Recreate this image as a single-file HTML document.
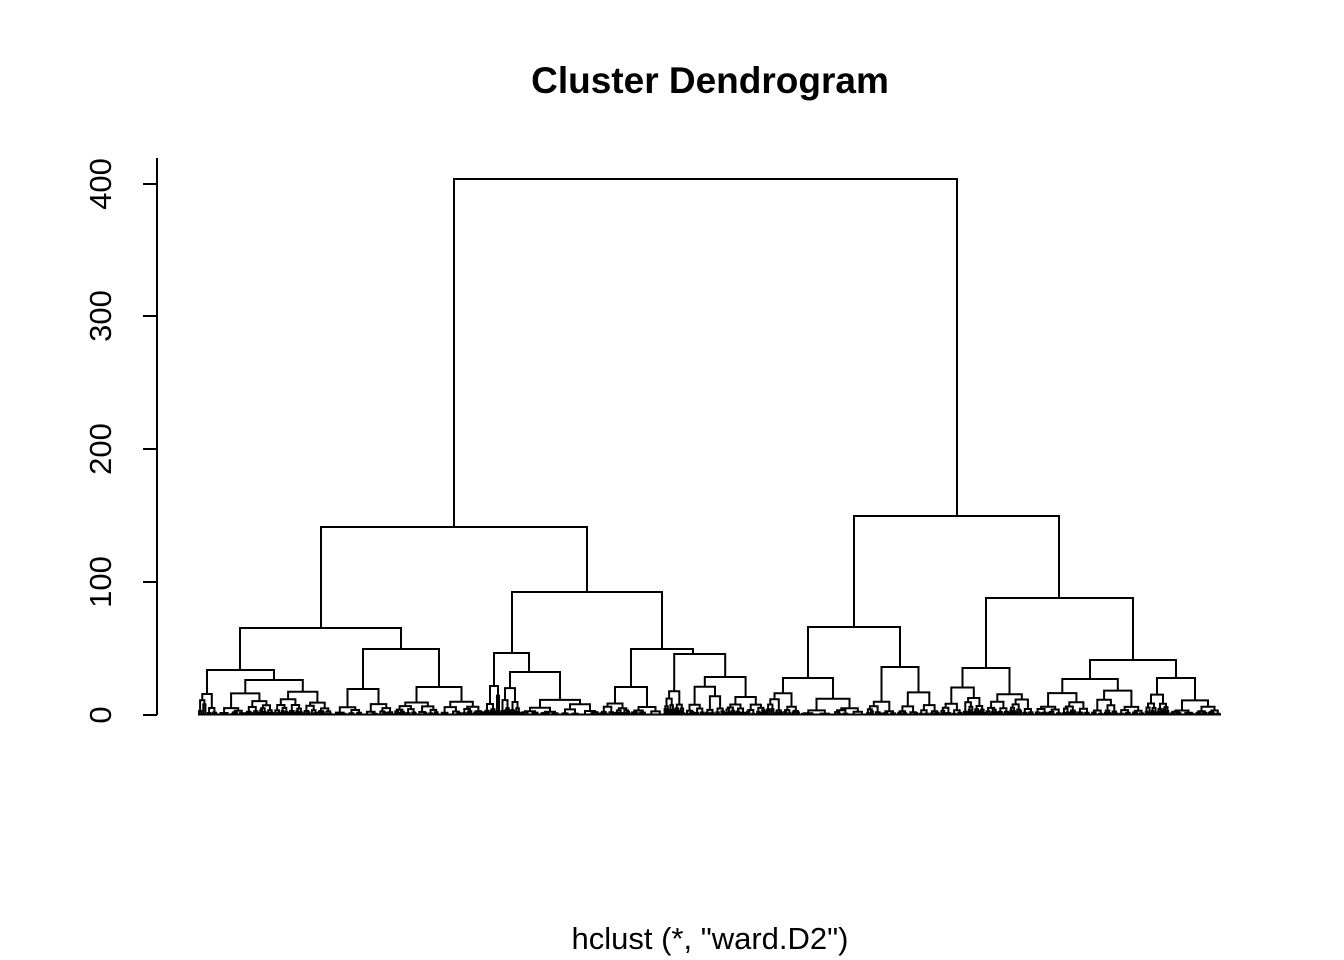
<!DOCTYPE html>
<html><head><meta charset="utf-8"><style>
html,body{margin:0;padding:0;background:#fff;}
svg{display:block;}
text{font-family:"Liberation Sans",Arial,sans-serif;fill:#000;}
</style></head><body>
<svg id="s" width="1344" height="960" xmlns="http://www.w3.org/2000/svg">
<text x="710" y="93" font-size="37" font-weight="bold" text-anchor="middle">Cluster Dendrogram</text>
<text x="710" y="949" font-size="31" text-anchor="middle">hclust (*, "ward.D2")</text>
<g stroke="#000" stroke-width="2" fill="none">
<line x1="157" y1="158" x2="157" y2="715"/>
<line x1="143" y1="715" x2="157" y2="715"/>
<line x1="143" y1="582" x2="157" y2="582"/>
<line x1="143" y1="449" x2="157" y2="449"/>
<line x1="143" y1="316" x2="157" y2="316"/>
<line x1="143" y1="184" x2="157" y2="184"/>
</g>
<g font-size="31" text-anchor="middle">
<text transform="translate(111,715) rotate(-90)">0</text>
<text transform="translate(111,582) rotate(-90)">100</text>
<text transform="translate(111,449) rotate(-90)">200</text>
<text transform="translate(111,316) rotate(-90)">300</text>
<text transform="translate(111,184) rotate(-90)">400</text>
</g>
<path id="d" stroke="#000" stroke-width="2" fill="none" d=""/>
</svg>
<script>
var seed=12345;function rnd(){seed=(seed*16807)%2147483647;return (seed-1)/2147483646;}
var p=[];var B=715;
function U(xl,xr,y,yl,yr){p.push("M"+xl+" "+yl+"V"+y+"H"+xr+"V"+yr);}
function gen(xl,xr,y,cx){
 if(xr-xl<2.2||B-y<1.2){p.push("M"+cx+" "+y+"V"+B);return;}
 var s=2*cx-(xl+xr)/2;var m=(xr-xl)*0.2;
 if(s<xl+m)s=xl+m;if(s>xr-m)s=xr-m;
 var cl=(xl+s)/2,cr=(s+xr)/2;
 var yl=y+(B-y)*(0.25+0.5*rnd()),yr=y+(B-y)*(0.25+0.5*rnd());
 U(cl.toFixed(1),cr.toFixed(1),y.toFixed(1),yl.toFixed(1),yr.toFixed(1));
 gen(xl,s,yl,cl);gen(s,xr,yr,cr);
}
U(454,957,179,527,516);
U(321,587,527,628,592);
U(240,401,628,670,649);
U(207,274,670,694,680);
U(363,439,649,689,687);
U(512,662,592,653,649);
U(494,529,653,686,672);
U(631,693,649,687,654);
U(854,1059,516,627,598);
U(808,900,627,678,667);
U(986,1133,598,668,660);
U(1090,1176,660,679,678);
var T=[[207,694,198,217],[274,680,217,332],[363,689,332,394],[439,687,394,484],
[494,686,484,500],[529,672,500,600],[631,687,600,664],[693,654,664,766],
[808,678,766,866],[900,667,866,940],[986,668,940,1034],[1090,679,1034,1145],[1176,678,1145,1221]];
T.forEach(function(t){gen(t[2],t[3],t[1],t[0]);});
p.push("M198 714.5H1221");
document.getElementById("d").setAttribute("d",p.join(""));
</script>
</body></html>
